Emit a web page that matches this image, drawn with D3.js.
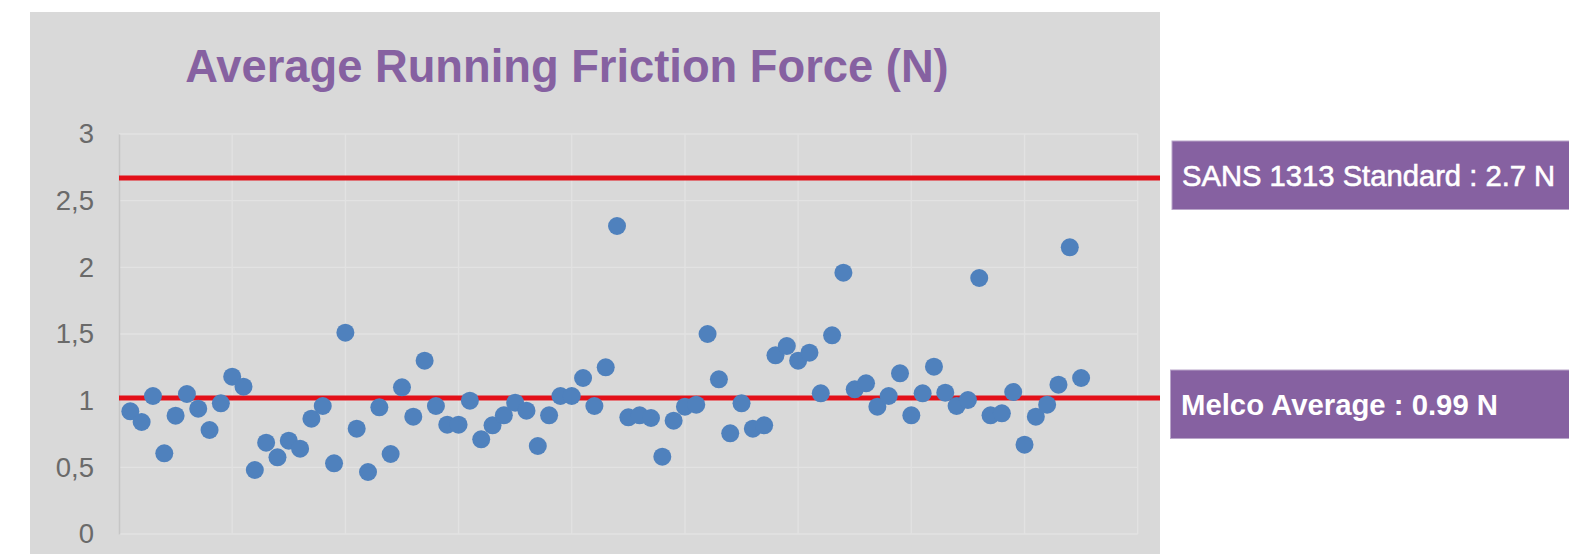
<!DOCTYPE html>
<html lang="en">
<head>
  <meta charset="UTF-8">
  <title>Average Running Friction Force</title>
  <style>
    html, body { margin: 0; background: #fff; }
    svg { display: block; }
  </style>
</head>
<body>
  <svg id="chart" width="1569" height="554"></svg>
  <script src="https://cdn.jsdelivr.net/npm/d3@7"></script>
  <script>
    // friction force per sample (N)
    var forces = [
      0.92, 0.84, 1.035, 0.605, 0.887, 1.05, 0.94, 0.78, 0.98, 1.18,
      1.105, 0.48, 0.685, 0.575, 0.70, 0.64, 0.865, 0.96, 0.53, 1.51,
      0.79, 0.465, 0.95, 0.60, 1.10, 0.88, 1.30, 0.96, 0.82, 0.82,
      1.0, 0.71, 0.815, 0.89, 0.985, 0.925, 0.66, 0.89, 1.035, 1.035,
      1.17, 0.96, 1.25, 2.31, 0.875, 0.89, 0.87, 0.58, 0.85, 0.955,
      0.97, 1.50, 1.16, 0.755, 0.98, 0.79, 0.815, 1.34, 1.41, 1.30,
      1.36, 1.055, 1.49, 1.96, 1.085, 1.13, 0.955, 1.035, 1.205, 0.89,
      1.055, 1.255, 1.06, 0.96, 1.005, 1.92, 0.89, 0.905, 1.065, 0.67,
      0.88, 0.97, 1.12, 2.15, 1.17
    ]
    var yTicks = [0, 0.5, 1, 1.5, 2, 2.5, 3]
    var xTicks = [0, 10, 20, 30, 40, 50, 60, 70, 80, 90]
    var refLines = [
      { name: 'SANS 1313 Standard : 2.7 N', value: 2.67, bold: false },
      { name: 'Melco Average : 0.99 N', value: 1.02, bold: true }
    ]

    var svg = d3.select('#chart')
    var font = '"Liberation Sans", Arial, sans-serif'

    var x = d3.scaleLinear().domain([0, 90]).range([119, 1137.7])
    var y = d3.scaleLinear().domain([0, 3]).range([534, 134])

    // panel background
    svg.append('rect')
      .attr('x', 30).attr('y', 12)
      .attr('width', 1130).attr('height', 560)
      .attr('fill', '#d9d9d9')

    svg.append('text')
      .attr('x', 567).attr('y', 82)
      .attr('text-anchor', 'middle')
      .attr('font-family', font)
      .attr('font-weight', 'bold')
      .attr('font-size', 45.3)
      .attr('fill', '#8661a1')
      .text('Average Running Friction Force (N)')

    // grid
    var grid = svg.append('g').attr('stroke', '#e2e2e2').attr('stroke-width', 1.3)
    grid.selectAll('.h').data(yTicks).join('line')
      .attr('x1', x(0)).attr('x2', x(90))
      .attr('y1', d => y(d)).attr('y2', d => y(d))
    grid.selectAll('.v').data(xTicks.slice(1)).join('line')
      .attr('x1', d => x(d)).attr('x2', d => x(d))
      .attr('y1', y(3)).attr('y2', y(0))

    // y axis
    var yAxis = svg.append('g')
      .attr('transform', `translate(${x(0)},0)`)
      .call(d3.axisLeft(y).tickValues(yTicks).tickSize(0).tickPadding(25)
        .tickFormat(d => String(d).replace('.', ',')))
    yAxis.select('.domain').attr('stroke', '#c6c6c6').attr('stroke-width', 1.5)
    yAxis.selectAll('text')
      .attr('font-family', font)
      .attr('font-size', 27.5)
      .attr('fill', '#6a6a6a')

    // reference lines
    svg.append('g').selectAll('line').data(refLines).join('line')
      .attr('x1', x(0)).attr('x2', 1160)
      .attr('y1', d => y(d.value)).attr('y2', d => y(d.value))
      .attr('stroke', '#e31019').attr('stroke-width', 5)

    // points
    svg.append('g').selectAll('circle').data(forces).join('circle')
      .attr('cx', (d, i) => x(i + 1))
      .attr('cy', d => y(d))
      .attr('r', 9)
      .attr('fill', '#4f81bd')

    // labels to the right
    var label = svg.append('g').selectAll('g').data(refLines).join('g')
      .attr('transform', (d, i) => `translate(${i ? 1170.5 : 1172},${i ? 370 : 141})`)
    label.append('rect')
      .attr('width', 420).attr('height', 68.5)
      .attr('fill', '#8661a1')
      .attr('stroke', '#b9a6c9').attr('stroke-width', 1)
    label.append('text')
      .attr('x', d => d.bold ? 10.5 : 10)
      .attr('y', 45)
      .attr('font-family', font)
      .attr('font-size', d => d.bold ? 29.3 : 29.2)
      .attr('font-weight', d => d.bold ? 'bold' : 'normal')
      .attr('fill', '#fff')
      .attr('stroke', d => d.bold ? 'none' : '#fff')
      .attr('stroke-width', 0.6)
      .text(d => d.name)
  </script>
</body>
</html>
